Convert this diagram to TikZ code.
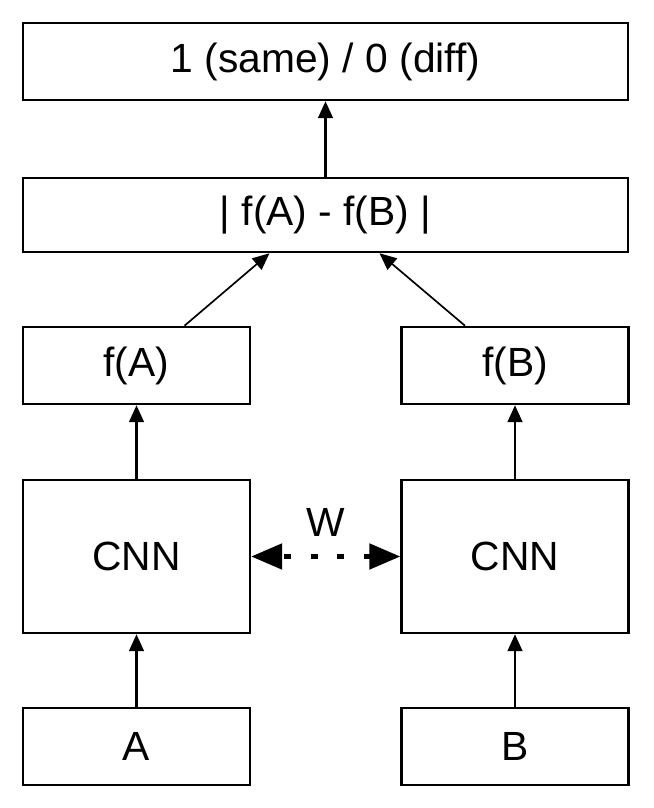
\documentclass[tikz,border=0pt]{standalone}
\usepackage{fontspec}
\setmainfont{Liberation Sans}
\usetikzlibrary{arrows.meta}
\begin{document}
\begin{tikzpicture}[>={Triangle[length=12pt,width=10.5pt]},
  box/.style={draw, rectangle, line width=1.8pt, minimum width=5.675cm, minimum height=1.925cm, align=center},
  wide/.style={box, minimum width=15.125cm},
  link/.style={->, line width=1.5pt},
  every node/.style={font=\fontsize{29}{34}\selectfont}]
\useasboundingbox (0,0) rectangle (16.325,20.2);
\node[wide] (out) at (8.1375,18.6625) {1 (same) / 0 (diff)};
\node[wide, minimum height=1.85cm] (diff) at (8.1375,14.825) {| f(A) - f(B) |};
\node[box] (fA) at (3.4125,11.0625) {f(A)};
\node[box] (fB) at (12.875,11.0625) {f(B)};
\node[box, minimum height=3.825cm] (cnnA) at (3.4125,6.2875) {CNN};
\node[box, minimum height=3.825cm] (cnnB) at (12.875,6.2875) {CNN};
\node[box] (A) at (3.4125,1.5375) {A};
\node[box] (B) at (12.875,1.5375) {B};

\draw[link] (A) -- (cnnA);
\draw[link] (B) -- (cnnB);
\draw[link] (cnnA) -- (fA);
\draw[link] (cnnB) -- (fB);
\draw[link, line width=1.2pt] ([xshift=1.2cm]fA.north) -- ([xshift=-1.4cm]diff.south);
\draw[link, line width=1.2pt] ([xshift=-1.25cm]fB.north) -- ([xshift=1.35cm]diff.south);
\draw[link] (diff) -- (out);
\draw[{Triangle[length=22pt,width=18pt]}-{Triangle[length=22pt,width=18pt]}, line width=3pt, dash pattern=on 5pt off 14pt, dash phase=-2pt]
  (cnnA) -- node[above=0.33cm] {W} (cnnB);
\end{tikzpicture}
\end{document}
